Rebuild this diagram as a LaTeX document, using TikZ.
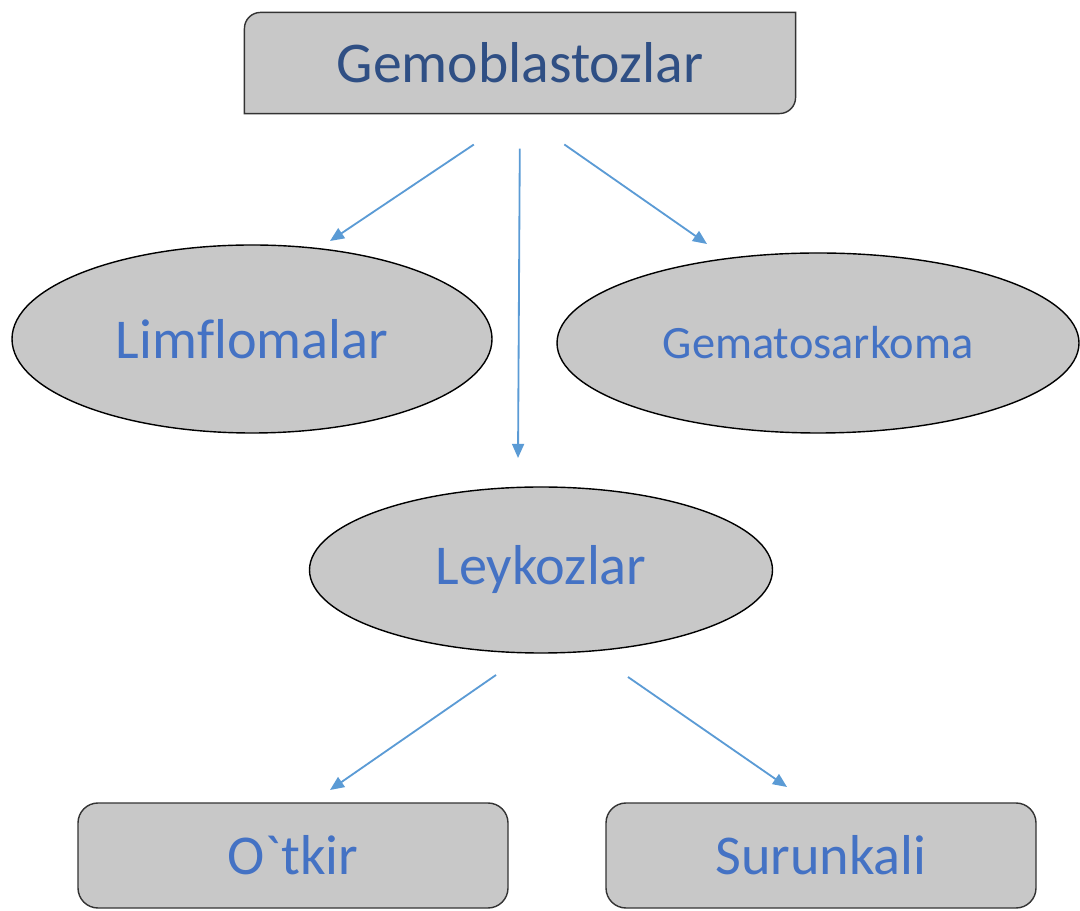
\documentclass[tikz,border=0pt]{standalone}
\usepackage{fontspec}
\setmainfont[Ligatures=NoCommon]{Carlito}
\usetikzlibrary{shapes.geometric}
\usetikzlibrary{calc}
\usetikzlibrary{backgrounds}
\usetikzlibrary{arrows.meta}
\definecolor{boxgray}{RGB}{200,200,200}
\definecolor{arrowblue}{RGB}{91,155,213}
\definecolor{titleblue}{RGB}{47,79,132}
\definecolor{textblue}{RGB}{68,114,196}
\tikzset{
every picture/.style={line width=0.8pt, >={Triangle[length=10pt,width=8.5pt]}},
%%%%%%%%%%  Node styles
big_text/.style={font=\fontsize{40}{48}\selectfont, text=textblue},
oval/.style={ellipse, draw=black, line width=1pt, fill=boxgray,
             inner sep=0pt, big_text},
roundbox/.style={draw=black!80, line width=1pt, fill=boxgray,
                 rounded corners=0.5cm, minimum width=10.75cm,
                 minimum height=2.625cm, inner sep=0pt, big_text},
%%%% connectors
link/.style={->, draw=arrowblue, line width=1.3pt}
}

\begin{document}
\begin{tikzpicture}
\useasboundingbox (0,0) rectangle (27,22.75);
\node[minimum width=13.75cm, minimum height=2.5cm, inner sep=0pt,
      font=\fontsize{41}{49}\selectfont, text=titleblue]
      (gemo) at (13,21.175) {Gemoblastozlar};
\begin{scope}[on background layer]
\draw[draw=black!80, line width=1pt, fill=boxgray] (gemo.south west)
  -- ($(gemo.north west)+(0,-0.4)$) arc[start angle=180, end angle=90, radius=0.4]
  -- (gemo.north east)
  -- ($(gemo.south east)+(0,0.4)$) arc[start angle=0, end angle=-90, radius=0.4]
  -- cycle;
\end{scope}
\node[oval, minimum width=12cm, minimum height=4.7cm] (limf) at (6.3,14.275) {Limflomalar};
\node[oval, minimum width=13.05cm, minimum height=4.5cm,
      font=\fontsize{33}{40}\selectfont] (gemat) at (20.45,14.175) {Gematosarkoma};
\node[oval, minimum width=11.575cm, minimum height=4.15cm] (leyk) at (13.525,8.5) {Leykozlar};
\node[roundbox] (otkir) at (7.325,1.3625) {O\textasciigrave tkir};
\node[roundbox] (surun) at (20.525,1.3625) {Surunkali};
% arrow tips and free starts
\coordinate (tip_limf) at (8.25,16.725);
\coordinate (tip_leyk) at (12.95,11.3);
\coordinate (tip_gemat) at (17.675,16.65);
\coordinate (from_left) at (12.4,5.875);
\coordinate (from_right) at (15.7,5.825);
\coordinate (tip_otkir) at (8.25,3.0);
\coordinate (tip_surun) at (19.675,3.075);
\draw[link, shorten <=1.39cm] (gemo.south) -- (tip_limf);
\draw[link, shorten <=0.875cm] (gemo.south) -- (tip_leyk);
\draw[link, shorten <=1.35cm] (gemo.south) -- (tip_gemat);
\draw[link] (from_left) -- (tip_otkir);
\draw[link] (from_right) -- (tip_surun);
\end{tikzpicture}
\end{document}
